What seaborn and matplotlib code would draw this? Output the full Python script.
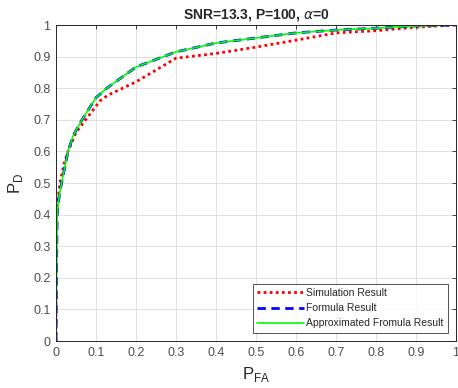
import matplotlib
matplotlib.use("Agg")
import matplotlib.pyplot as plt
import seaborn as sns
import pandas as pd

# Simulation result (red dotted)
sim_pfa = [0.0, 0.0, 0.002, 0.005, 0.01, 0.02, 0.03, 0.05, 0.08, 0.11, 0.13, 0.2, 0.3, 0.4, 0.5, 0.6, 0.7, 0.8, 0.9, 1.0]
sim_pd = [0.0, 0.3, 0.4, 0.45, 0.5, 0.56, 0.6, 0.66, 0.71, 0.76, 0.778, 0.82, 0.895, 0.91, 0.93, 0.952, 0.975, 0.982, 0.993, 1.0]

# Formula result (blue dashed)
form_pfa = [0.0, 0.002, 0.003, 0.008, 0.014, 0.03, 0.043, 0.065, 0.1, 0.127, 0.2, 0.3, 0.4, 0.5, 0.6, 0.7, 0.8, 0.9, 1.0]
form_pd = [0.0, 0.3, 0.4, 0.46, 0.5, 0.6, 0.65, 0.7, 0.77, 0.8, 0.867, 0.915, 0.943, 0.959, 0.975, 0.984, 0.99, 0.997, 1.0]

# Approximated formula result (green solid)
appr_pfa = form_pfa
appr_pd = form_pd

title = "SNR=13.3, P=100, $\\alpha$=0"
labels = ["Simulation Result", "Formula Result", "Approximated Fromula Result"]
ticks = [0, 0.1, 0.2, 0.3, 0.4, 0.5, 0.6, 0.7, 0.8, 0.9, 1]
tick_labels = ["0", "0.1", "0.2", "0.3", "0.4", "0.5", "0.6", "0.7", "0.8", "0.9", "1"]

sns.set_style("white")
plt.rcParams['font.family'] = ['Liberation Sans', 'DejaVu Sans']
plt.rcParams['mathtext.fontset'] = 'dejavusans'

fig = plt.figure(figsize=(4.58, 3.88), dpi=100)
ax = fig.add_axes([56/458, 47/388, 400/458, 316/388])

df_sim = pd.DataFrame({"x": sim_pfa, "y": sim_pd})
df_form = pd.DataFrame({"x": form_pfa, "y": form_pd})
df_appr = pd.DataFrame({"x": appr_pfa, "y": appr_pd})

sns.lineplot(data=df_sim, x="x", y="y", ax=ax, color=(1, 0, 0), linestyle=(0, (1, 1.2)),
             linewidth=2, label=labels[0], sort=False, estimator=None)
sns.lineplot(data=df_form, x="x", y="y", ax=ax, color=(0, 0, 1), linestyle=(0, (3, 2)),
             linewidth=2, label=labels[1], sort=False, estimator=None)
sns.lineplot(data=df_appr, x="x", y="y", ax=ax, color=(0, 1, 0), linestyle='-',
             linewidth=1.2, label=labels[2], sort=False, estimator=None)

ax.set_xlim(0, 1)
ax.set_ylim(0, 1)
ax.set_xticks(ticks)
ax.set_xticklabels(tick_labels)
ax.set_yticks(ticks)
ax.set_yticklabels(tick_labels)
ax.grid(True, color='#dcdcdc', linewidth=0.6)
ax.tick_params(axis='both', direction='in', length=3, width=0.6, colors='#262626',
               labelsize=9, top=True, right=True, labelcolor='#4d4d4d', pad=4)
for s in ax.spines.values():
    s.set_color('#262626')
    s.set_linewidth(0.7)

ax.set_title(title, fontsize=10, fontweight='bold', color='#262626', pad=5)
ax.set_xlabel("P$_{\\mathregular{FA}}$", fontsize=12, color='#262626', labelpad=5)
ax.set_ylabel("P$_{\\mathregular{D}}$", fontsize=12, color='#262626', labelpad=6)

leg = ax.legend(loc='lower right', fontsize=7.5, frameon=True, fancybox=False,
                edgecolor='#262626', handlelength=4.5, borderpad=0.4, labelspacing=0.5,
                handletextpad=0.2, borderaxespad=0.8)
leg.get_frame().set_linewidth(0.7)

fig.savefig("out.png", dpi=100)
